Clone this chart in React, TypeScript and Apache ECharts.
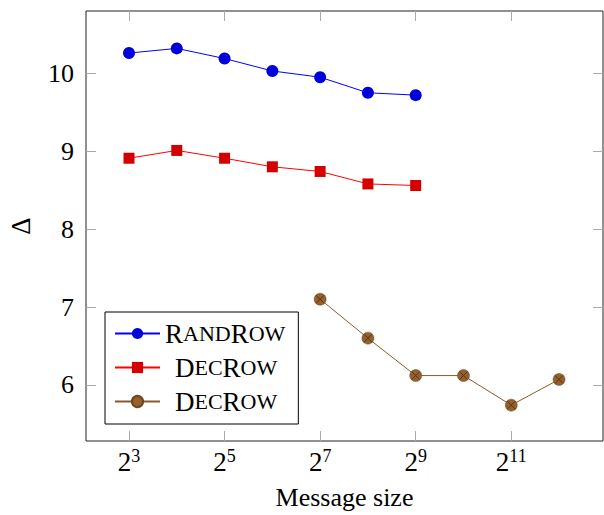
import React, { useEffect, useRef } from "react";
import * as echarts from "echarts";

const xExpMain = [3, 4, 5, 6, 7, 8, 9];
const xExpBrown = [7, 8, 9, 10, 11, 12];
const randRow = [10.26, 10.32, 10.19, 10.03, 9.95, 9.75, 9.72];
const decRow = [8.91, 9.01, 8.91, 8.8, 8.74, 8.58, 8.56];
const decRow2 = [7.1, 6.6, 6.12, 6.12, 5.74, 6.07];
const xTickExp = [3, 5, 7, 9, 11];
const yTicks = [6, 7, 8, 9, 10];

const FONT = "Liberation Serif";

export default function App() {
  const ref = useRef<HTMLDivElement>(null);
  useEffect(() => {
    const chart = echarts.init(ref.current!, null, { renderer: "svg" });
    const pair = (xs: number[], ys: number[]) => xs.map((x, i) => [x, ys[i]]);
    const tickStyle = { show: true, inside: true, length: 10, lineStyle: { color: "#aaaaaa", width: 1 } };
    const xBase = {
      type: "value",
      min: 2.1,
      max: 12.92,
      splitLine: { show: false },
      axisLine: { show: false },
    };
    const yBase = {
      type: "value",
      min: 5.28,
      max: 10.8,
      splitLine: { show: false },
      axisLine: { show: false },
    };
    chart.setOption({
      animation: false,
      textStyle: { fontFamily: FONT },
      grid: {
        left: 86,
        right: 1,
        top: 11,
        bottom: 74,
        containLabel: false,
        outerBoundsMode: "none",
        show: true,
        borderColor: "#222",
        borderWidth: 1,
      },
      xAxis: [
        {
          ...xBase,
          position: "bottom",
          name: "Message size",
          nameLocation: "middle",
          nameGap: 43,
          nameTextStyle: { fontFamily: FONT, fontSize: 26, color: "#000" },
          axisTick: { ...tickStyle, customValues: xTickExp },
          axisLabel: {
            customValues: xTickExp,
            margin: 6,
            formatter: (v: number) => `{b|2}{sup|${Math.round(v)}}`,
            rich: {
              b: { fontFamily: FONT, fontSize: 27, color: "#000" },
              sup: { fontFamily: FONT, fontSize: 18, color: "#000", padding: [0, 0, 12, 0] },
            },
          },
        },
        {
          ...xBase,
          position: "top",
          axisTick: { ...tickStyle, customValues: xTickExp },
          axisLabel: { show: false },
        },
      ],
      yAxis: [
        {
          ...yBase,
          position: "left",
          name: "Δ",
          nameLocation: "middle",
          nameGap: 52,
          nameRotate: 90,
          nameTextStyle: { fontFamily: FONT, fontSize: 27, color: "#000" },
          axisTick: { ...tickStyle, customValues: yTicks },
          axisLabel: {
            customValues: yTicks,
            margin: 12,
            fontFamily: FONT,
            fontSize: 26,
            color: "#000",
          },
        },
        {
          ...yBase,
          position: "right",
          axisTick: { ...tickStyle, customValues: yTicks },
          axisLabel: { show: false },
        },
      ],
      legend: {
        data: ["RandRow", "DecRow", "DecRow2"],
        orient: "vertical",
        left: 105,
        top: 312,
        itemWidth: 45,
        itemHeight: 14,
        itemGap: 7,
        padding: [8, 13, 9, 9],
        borderColor: "#000",
        borderWidth: 1,
        backgroundColor: "#fff",
        formatter: (name: string) =>
          name === "RandRow"
            ? "{b|R}{s|AND}{b|R}{s|OW}"
            : "{sp|}{b|D}{s|EC}{b|R}{s|OW}",
        textStyle: {
          fontFamily: FONT,
          lineHeight: 26,
          rich: {
            b: { fontFamily: FONT, fontSize: 27, color: "#000" },
            s: { fontFamily: FONT, fontSize: 22, color: "#000" },
            sp: { width: 10 },
          },
        },
      },
      series: [
        {
          name: "RandRow",
          type: "line",
          data: pair(xExpMain, randRow),
          symbol: "circle",
          symbolSize: 12,
          itemStyle: { color: "#0000dd" },
          lineStyle: { color: "#0000ff", width: 1 },
        },
        {
          name: "DecRow",
          type: "line",
          data: pair(xExpMain, decRow),
          symbol: "rect",
          symbolSize: 11,
          itemStyle: { color: "#d40000" },
          lineStyle: { color: "#ff0000", width: 1 },
        },
        {
          name: "DecRow2",
          type: "line",
          data: pair(xExpBrown, decRow2),
          symbol: "circle",
          symbolSize: 12,
          itemStyle: { color: "#94602e", borderColor: "#6e4520", borderWidth: 0.5 },
          lineStyle: { color: "#8b5a2b", width: 1 },
        },
        {
          name: "DecRow2x",
          type: "line",
          data: pair(xExpBrown, decRow2),
          symbol: "path://M0 0L10 10M10 0L0 10",
          symbolSize: 8,
          itemStyle: { color: "none", borderColor: "#5a3512", borderWidth: 1 },
          lineStyle: { opacity: 0 },
          silent: true,
        },
      ],
    });
    return () => chart.dispose();
  }, []);
  return (
    <div
      ref={ref}
      style={{ position: "fixed", left: 0, top: 0, width: 604, height: 515, background: "#fff" }}
    />
  );
}
